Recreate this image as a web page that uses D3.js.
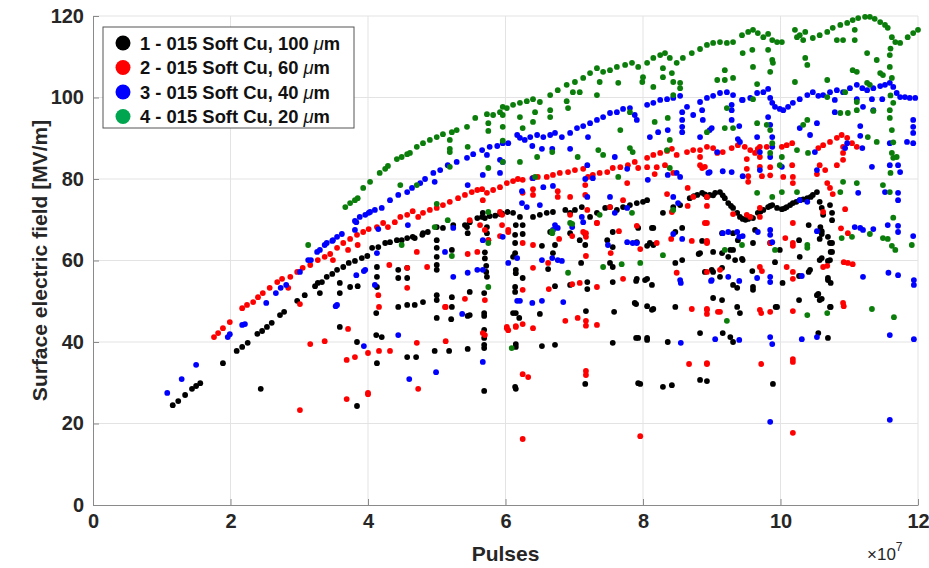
<!DOCTYPE html>
<html>
<head>
<meta charset="utf-8">
<script src="https://cdn.jsdelivr.net/npm/d3@7"></script>
<style>
  body { margin: 0; background: #fff; }
  svg text { font-family: "Liberation Sans", Arial, sans-serif; }
</style>
</head>
<body>
<div id="chart"></div>
<script>
// pulses are in units of 1e7, field in MV/m
var s1Points = [
  [1.16,24.5],[1.24,25.5],[1.34,27.0],[1.44,28.5],[1.50,29.2],[1.56,29.9],[1.89,34.8],[2.09,37.8],[2.17,38.8],[2.25,39.8],
  [2.39,42.0],[2.46,42.7],[2.53,43.7],[2.60,44.7],[2.72,46.6],[2.78,47.4],[2.97,50.1],[3.08,51.5],[3.23,53.7],[3.27,54.5],
  [3.33,54.7],[3.40,56.0],[3.48,56.7],[3.55,57.7],[3.64,58.4],[3.72,59.4],[3.81,59.9],[3.91,60.6],[3.99,61.1],[4.06,63.1],
  [4.15,63.3],[4.25,64.3],[4.32,64.5],[4.42,65.0],[4.49,65.0],[4.57,65.5],[4.65,65.8],[4.79,66.3],[4.87,67.0],[5.00,68.2],
  [5.09,68.0],[5.24,68.7],[5.41,68.7],[5.48,69.4],[5.59,70.4],[5.66,70.7],[5.77,70.9],[5.85,71.0],[5.92,71.4],[5.95,71.5],
  [6.03,71.9],[6.11,71.7],[6.21,70.7],[6.40,70.7],[6.50,71.2],[6.60,71.7],[6.69,71.9],[6.87,72.4],[6.94,71.7],[7.01,72.4],
  [7.11,73.1],[7.23,70.7],[7.33,71.7],[7.45,72.9],[7.52,73.1],[7.62,72.4],[7.71,73.1],[7.81,73.6],[7.91,74.1],[8.00,74.4],
  [8.06,74.8],[8.29,71.7],[8.44,73.1],[8.54,73.6],[8.68,75.3],[8.79,76.1],[8.86,76.6],[8.93,75.6],[8.97,76.1],[9.05,76.6],
  [9.12,76.8],[9.19,75.3],[9.24,74.1],[9.31,72.9],[9.37,71.7],[9.41,70.7],[9.45,70.2],[9.53,70.2],[9.60,70.4],[9.67,71.7],
  [9.75,72.4],[9.82,73.1],[9.88,73.6],[9.95,72.9],[10.02,72.6],[10.09,73.1],[10.18,74.1],[10.28,74.8],[10.39,75.3],[10.47,76.1],
  [10.53,76.8],[10.57,74.4],[10.60,72.9],[10.62,71.2],[10.72,73.6],[10.75,71.7],[10.75,69.9],
  [8.74,75.8],[8.90,76.2],[9.02,76.0],[9.16,76.0],[9.28,73.4],[9.49,70.0],[9.57,70.6],[9.71,72.0],[9.85,73.4],[10.06,72.8],
  [10.14,73.6],[10.23,74.4],[10.33,75.0],[10.44,75.6],
  [2.44,28.5],[3.84,24.3],[3.30,52.0],[3.59,52.0],[3.74,53.5],[3.85,53.7],[3.59,54.5],[3.59,43.7],[3.84,40.0],
  [4.13,58.4],[4.13,56.0],[4.13,53.5],[4.12,47.1],[4.12,41.7],[4.20,41.2],[4.13,34.8],
  [4.44,57.7],[4.44,55.7],[4.57,58.2],[4.57,55.7],[4.44,48.6],[4.57,49.1],[4.68,49.1],[4.80,49.8],[4.68,65.5],[4.80,66.7],
  [4.57,36.3],[4.70,36.3],[4.97,37.8],[5.18,37.8],[5.45,38.3],
  [5.00,65.0],[5.00,63.1],[5.00,60.9],[5.00,58.9],[5.00,57.7],[5.00,51.5],[5.00,50.3],[5.00,45.9],
  [5.22,62.6],[5.22,51.0],[5.22,48.6],[5.21,45.6],[5.44,68.2],[5.45,66.7],[5.48,52.3],[5.48,46.6],[5.45,46.4],
  [5.67,71.7],[5.70,70.4],[5.73,68.2],[5.73,66.7],[5.75,65.0],[5.70,62.0],[5.70,60.5],[5.72,58.7],[5.72,57.2],[5.73,56.0],
  [5.69,52.0],[5.69,47.1],[5.69,46.4],[5.69,43.0],[5.69,41.0],[5.69,39.3],[5.69,38.5],[5.69,28.0],
  [6.11,60.9],[6.15,57.7],[6.15,68.7],[6.25,68.7],[6.14,66.3],[6.25,66.5],[6.14,64.3],[6.14,61.8],[6.15,56.9],[6.25,55.7],
  [6.14,53.5],[6.14,52.3],[6.15,47.1],[6.20,45.9],[6.15,39.5],[6.15,38.8],[6.14,29.0],[6.11,47.1],[6.15,28.5],
  [6.53,63.6],[6.62,57.9],[6.69,61.8],[6.72,63.8],[6.65,67.0],[6.72,53.7],[6.50,46.9],[6.53,39.0],[6.72,39.3],
  [6.94,66.7],[7.08,65.0],[7.16,66.5],[7.16,63.8],[7.10,59.4],[7.19,54.7],[7.19,53.0],[7.17,47.6],[7.16,29.7],[6.94,54.0],
  [7.48,65.0],[7.56,67.0],[7.56,63.3],[7.52,59.4],[7.56,58.4],[7.56,54.7],[7.58,47.4],[7.56,39.8],
  [7.90,55.0],[8.06,55.5],[8.13,54.0],[7.90,49.3],[8.06,48.8],[8.15,48.1],[7.90,41.0],[8.06,41.0],[7.96,29.7],
  [8.06,63.6],[8.15,63.8],[8.13,68.0],[7.93,68.0],[8.15,68.0],[7.91,64.5],[8.10,64.3],
  [8.47,59.4],[8.57,60.1],[8.57,68.0],[8.47,67.0],[8.86,64.8],[8.83,61.8],[9.02,62.1],[9.15,61.8],[9.15,66.7],[9.31,66.7],
  [9.38,65.0],[9.27,62.6],[9.24,60.9],[9.34,60.1],[9.44,60.4],[9.00,57.7],[9.15,58.2],[9.12,56.0],[9.31,54.0],[9.37,53.3],
  [9.60,53.5],[9.63,67.5],[9.60,64.3],[9.85,64.3],[9.99,62.6],[10.28,60.9],[10.43,57.7],[10.57,60.1],[10.60,67.2],[10.57,65.3],
  [10.69,65.8],[10.72,64.3],[10.75,62.1],[10.72,60.1],[10.69,55.7],[10.53,51.5],[10.57,50.3],[10.72,48.6],[10.27,50.3],
  [9.95,48.6],[9.37,48.6],[9.41,47.1],[9.15,50.3],[9.02,50.8],[8.83,42.2],[9.16,42.2],[9.27,41.2],[9.31,40.0],[10.55,42.2],
  [10.69,41.0],[8.36,40.0],[8.06,40.5],[7.93,41.0],[8.03,55.2],[7.91,55.5],[7.88,49.6],[8.13,47.9],[8.47,48.6],
  [7.93,29.9],[8.29,29.0],[8.42,29.4],[8.83,30.7],[8.93,30.4],[9.89,29.7],[8.81,61.6],[9.02,57.2],[8.90,57.2],
  [9.31,62.6],[9.45,60.1],[9.59,57.4],[9.60,52.8],[9.92,59.6],[9.93,48.6],[10.03,54.5],[10.27,56.2],[10.27,65.0],[10.41,68.7],
  [10.41,57.2],[10.55,51.8],[10.60,50.6],[10.73,48.6],[10.60,60.6],[10.69,59.9],[10.73,62.1],[10.75,64.3],[10.69,55.2],
  [10.73,54.5],[10.60,66.5],[10.58,68.2]
];

var s2Points = [
  [1.76,41.2],[1.82,42.2],[1.89,43.4],[1.99,44.9],[2.17,48.3],[2.24,49.1],[2.33,49.8],[2.40,51.0],[2.47,52.0],[2.57,53.3],
  [2.68,54.7],[2.75,55.5],[2.87,56.0],[2.97,57.2],[3.05,58.2],[3.16,58.9],[3.27,60.1],[3.37,60.9],[3.45,61.6],[3.55,63.1],
  [3.64,64.3],[3.74,65.3],[3.84,66.3],[3.93,67.0],[4.01,67.7],[4.13,68.2],[4.22,69.2],[4.29,68.2],[4.39,69.4],[4.47,70.7],
  [4.57,71.2],[4.65,72.1],[4.73,70.7],[4.80,71.7],[4.90,72.4],[5.00,72.9],[5.09,73.6],[5.19,74.4],[5.31,75.3],[5.41,76.1],
  [5.51,76.8],[5.59,77.3],[5.66,77.5],[5.73,76.6],[5.82,77.3],[5.92,78.0],[6.02,79.0],[6.11,79.5],[6.18,80.0],[6.25,79.8],
  [6.39,80.2],[6.47,80.5],[6.60,80.5],[6.69,81.0],[6.79,81.5],[6.91,81.7],[7.01,82.2],[7.13,82.5],[7.20,80.5],[7.27,81.0],
  [7.37,81.5],[7.48,81.7],[7.56,82.7],[7.67,82.9],[7.78,83.4],[7.88,84.2],[7.93,82.7],[8.06,85.2],[8.15,85.9],[8.25,86.4],
  [8.35,86.9],[8.42,87.4],[8.49,85.9],[8.64,86.6],[8.73,87.1],[8.83,87.1],[8.93,87.9],[9.02,87.6],[9.08,86.4],[9.16,86.6],
  [9.29,87.6],[9.38,88.3],[9.48,87.9],[9.56,87.1],[9.63,86.4],[9.67,87.4],[9.80,87.9],[10.02,87.9],[10.09,88.3],[10.17,88.8],
  [10.55,87.6],[10.62,88.3],[10.72,89.1],[10.82,90.1],[10.89,90.8],[10.97,90.1],[11.04,88.8],[11.11,87.9],
  [2.84,53.3],[3.01,49.3],[3.16,39.5],[3.37,40.2],[3.01,23.3],[3.71,43.2],[3.69,35.6],[3.81,36.3],[3.69,26.0],[4.00,37.3],
  [4.00,27.5],[3.71,62.6],[3.85,63.8],[3.49,60.1],[4.31,58.9],[4.57,58.2],[4.57,53.3],[4.71,62.1],[4.86,58.4],[4.15,51.5],
  [4.16,48.6],[5.12,48.6],[5.41,50.6],[5.70,50.3],[5.45,61.6],[5.59,62.1],[5.63,68.7],[5.70,67.5],[5.48,69.9],[5.67,74.8],
  [5.75,65.0],[5.95,71.2],[5.92,66.0],[6.04,67.5],[6.02,43.7],[4.16,37.8],[4.32,37.8],[4.71,39.8],[5.13,40.2],[5.13,48.6],
  [4.73,28.5],[4.00,27.2],[5.67,42.2],[5.70,41.7],[6.04,42.9],[6.15,43.7],
  [6.40,77.5],[6.40,76.1],[6.25,76.6],[5.92,71.9],[5.95,68.7],[6.76,77.0],[6.76,75.6],[6.94,75.6],[6.94,71.2],[7.16,78.5],
  [7.16,76.1],[7.19,72.4],[7.33,69.2],[7.13,67.0],[7.52,73.1],[7.71,74.8],[7.77,79.0],[8.06,82.9],[8.20,82.9],[8.32,83.4],
  [8.17,81.2],[8.35,76.3],[8.65,77.8],[8.73,75.6],[8.86,82.7],[8.93,75.6],[8.90,69.2],[8.42,71.9],[8.65,73.4],[8.44,81.5],
  [8.83,85.4],[8.83,83.4],[8.90,83.0],[9.51,84.9],[9.51,82.5],[9.53,80.7],[9.53,79.3],[9.70,87.9],[9.70,85.4],[9.70,83.0],
  [9.73,80.7],[9.85,82.9],[9.85,80.9],[10.04,80.5],[10.17,83.4],[10.18,80.5],[10.18,79.0],[10.53,81.2],[10.57,83.4],[10.65,82.2],
  [10.68,79.0],[10.72,77.8],[10.76,76.3],[10.91,87.9],[10.91,86.4],[10.91,84.7],[10.82,83.4],
  [8.93,73.4],[8.93,69.2],[8.93,64.5],[9.31,71.4],[9.51,71.2],[9.56,70.7],[9.70,72.9],[9.70,70.7],[10.18,69.2],[10.18,64.3],
  [10.18,63.6],[10.07,65.5],[9.85,64.3],[10.62,71.9],[10.94,72.6],[10.88,67.9],[10.98,66.7],[8.93,57.2],[9.12,57.7],[9.70,58.4],
  [9.73,57.4],[10.09,58.4],[10.18,57.2],[10.18,55.5],[10.62,58.4],[10.68,58.7],[10.92,59.6],[10.98,59.4],[11.05,59.1],[8.93,47.9],
  [9.12,47.4],[9.70,47.9],[9.72,47.1],[9.85,47.4],[10.18,47.6],[10.91,49.6],[10.92,48.8],[8.93,34.8],[9.72,34.6],[10.18,35.8],
  [10.18,35.1],[10.18,17.7],
  [6.04,67.0],[6.25,64.3],[6.40,63.8],[6.40,58.2],[6.62,59.4],[6.78,65.3],[6.97,66.0],[7.17,66.7],[7.17,65.8],[7.17,61.1],
  [7.33,69.2],[7.65,67.2],[7.53,61.8],[7.91,68.5],[7.96,62.8],[8.20,64.3],[8.41,65.3],[8.71,64.8],[8.93,64.8],[8.93,64.3],
  [8.49,57.0],[6.25,52.8],[6.63,53.0],[6.97,54.2],[7.08,54.5],[7.33,53.5],[7.71,55.5],[6.02,43.4],[6.15,43.9],[6.25,44.4],
  [6.40,43.4],[6.87,45.2],[7.05,45.9],[7.17,45.2],[7.17,44.0],[7.33,44.2],[8.71,48.1],[8.93,48.1],[8.93,46.9],[9.09,47.4],
  [6.25,32.1],[6.33,31.4],[7.17,32.9],[7.17,31.9],[8.67,34.6],[8.93,34.6],[6.25,16.2],[7.96,16.9]
];

var s3Points = [
  [1.08,27.5],[1.29,30.9],[1.50,34.4],[1.96,41.2],[1.99,41.9],[2.17,44.2],[2.21,44.4],[2.52,49.6],[2.66,52.0],[2.73,53.3],
  [2.81,54.0],[3.01,57.2],[3.13,60.1],[3.17,60.1],[3.26,62.1],[3.30,62.6],[3.37,63.8],[3.40,64.3],[3.48,64.8],[3.49,65.0],
  [3.55,65.8],[3.62,66.5],[3.81,67.5],[3.81,69.7],[3.83,69.4],[3.88,70.7],[3.96,71.2],[4.01,71.7],[4.03,71.9],[4.10,72.4],
  [4.20,72.9],[4.32,74.8],[4.44,76.1],[4.57,76.8],[4.64,77.8],[4.76,79.0],[4.83,80.0],[4.95,81.5],[5.05,82.2],[5.16,83.4],
  [5.29,84.2],[5.44,85.2],[5.53,86.1],[5.66,87.1],[5.77,87.9],[5.88,88.1],[5.96,88.8],[6.04,88.8],[6.17,90.8],[6.21,90.1],
  [6.28,89.6],[6.36,90.3],[6.46,90.8],[6.55,90.3],[6.65,90.8],[6.72,91.3],[6.82,90.3],[6.94,91.3],[7.04,92.5],[7.13,93.0],
  [7.23,93.7],[7.33,94.5],[7.42,95.2],[7.52,96.2],[7.62,96.4],[7.71,97.2],[7.81,97.4],[7.88,95.7],[7.91,94.5],[8.06,98.2],
  [8.15,98.7],[8.25,99.4],[8.35,99.6],[8.44,99.9],[8.54,100.4],[8.64,97.7],[8.83,98.9],[8.93,99.9],[9.02,100.4],[9.12,101.1],
  [9.22,101.3],[9.31,100.6],[9.44,99.4],[9.56,99.9],[9.66,101.1],[9.75,101.3],[9.82,102.1],[9.85,99.9],[9.88,98.7],[9.92,97.7],
  [9.99,97.2],[10.04,96.9],[10.11,97.7],[10.18,98.7],[10.28,99.6],[10.39,100.6],[10.47,101.3],[10.55,100.4],[10.62,100.6],[10.72,101.3],
  [10.82,101.8],[10.91,101.3],[11.01,102.3],[11.11,103.1],[11.19,102.3],[11.26,101.8],[11.35,102.3],[11.45,102.8],[11.52,103.1],[11.59,103.6],
  [11.64,102.6],[11.69,101.1],[11.74,100.1],[11.81,100.1],[11.88,99.9],[11.96,99.9],
  [3.53,48.8],[3.83,56.4],[3.94,57.4],[3.94,39.0],[4.44,41.7],[5.37,46.9],[5.67,35.1],[4.99,32.6],[4.60,30.9],
  [5.45,78.5],[5.67,81.0],[5.92,81.5],[5.96,84.2],[5.73,85.9],[4.97,79.3],[4.15,67.7],[3.96,57.7],[4.13,61.8],[4.10,54.0],
  [4.58,68.7],[5.24,68.0],[5.12,62.1],[5.24,56.0],[5.45,57.0],[5.59,57.7],[5.67,57.7],[3.55,49.1],[5.67,65.0],[5.96,65.8],
  [6.04,59.4],[6.17,60.6],
  [5.92,84.7],[6.39,88.1],[6.53,87.4],[6.68,87.4],[6.94,87.4],[7.20,90.3],[7.19,83.4],[7.59,85.4],[7.77,82.5],[7.16,80.0],
  [7.19,75.6],[7.11,70.7],[6.69,78.3],[6.55,78.0],[6.40,80.2],[6.24,77.0],[6.24,74.1],[6.31,73.1],[6.50,73.6],[6.72,68.7],
  [7.27,80.2],[7.52,75.6],[7.59,71.7],[7.77,72.9],[8.07,79.8],[8.10,90.3],[8.22,91.5],[8.36,92.0],[8.36,81.0],[8.49,81.5],
  [8.54,80.5],[8.57,91.5],[8.57,92.8],[8.57,94.5],[8.57,96.4],[8.73,95.7],[8.86,96.9],[8.87,94.5],[8.97,92.0],[8.83,90.3],
  [8.95,81.5],[8.44,75.6],[8.51,74.1],
  [9.29,98.2],[9.29,96.9],[9.29,94.5],[9.40,93.0],[9.45,99.4],[9.00,92.5],[9.66,90.3],[9.38,89.8],[9.41,89.1],[9.82,95.2],
  [9.85,93.3],[9.88,90.3],[9.88,87.9],[9.85,85.4],[9.70,86.6],[9.70,82.2],[9.08,86.6],[9.16,81.9],[9.29,81.7],[8.97,81.7],
  [9.45,80.7],[10.02,83.0],[10.28,92.5],[10.43,90.8],[10.53,93.7],[10.50,86.6],[10.53,82.2],[10.39,74.4],[10.28,74.8],[10.79,99.4],
  [10.79,96.4],[10.94,87.6],[10.97,88.8],[11.11,99.6],[11.16,93.0],[11.16,90.6],[11.20,97.7],[11.33,99.6],[11.48,99.6],[11.35,96.9],
  [11.19,87.6],[11.33,83.0],[11.59,88.8],[11.59,83.4],[11.71,83.4],[11.74,81.7],[11.84,89.1],[11.93,88.8],[11.93,94.5],[11.93,92.8],
  [11.93,91.3],[11.13,76.6],[11.52,76.8],[11.71,76.6],[11.71,74.8],
  [9.85,67.5],[9.85,66.3],[9.88,64.5],[10.31,56.2],[9.16,66.7],[9.24,67.0],[9.37,67.0],[9.40,65.8],[9.45,66.0],[9.67,67.0],
  [10.53,67.2],[11.08,68.2],[11.16,68.0],[11.20,67.5],[11.35,67.7],[11.56,68.7],[11.71,68.5],[11.71,67.0],[11.93,66.0],[9.00,55.2],
  [9.24,56.0],[9.40,55.0],[9.66,55.7],[9.85,56.0],[9.85,54.7],[11.20,56.0],[11.57,57.0],[11.71,56.4],[11.94,55.2],[11.94,54.0],
  [9.05,40.7],[9.40,40.5],[9.85,41.2],[9.88,39.5],[10.31,40.7],[10.53,41.2],[11.59,41.7],[11.94,40.7],[9.85,20.4],[11.59,20.9],
  [6.17,50.1],[6.21,50.1],[6.39,49.6],[6.53,50.1],[6.53,60.1],[6.68,60.6],[6.76,60.1],[6.82,59.9],[6.84,49.8],[6.69,67.5],
  [6.76,68.0],[7.13,69.4],[6.97,68.2],[7.49,63.8],[7.77,64.5],[7.85,64.3],[7.91,64.3],[8.44,66.5],[8.57,65.3],[8.54,55.2],
  [8.55,54.5],[8.99,55.0],[8.55,39.8]
];

var s4Points = [
  [3.13,63.8],[3.67,73.1],[3.74,74.1],[3.81,74.8],[3.85,75.3],[3.93,77.8],[4.03,79.3],[4.17,81.5],[4.25,82.5],[4.29,83.2],
  [4.42,84.9],[4.49,85.4],[4.57,86.1],[4.61,86.4],[4.71,87.9],[4.80,88.8],[4.90,89.6],[5.00,90.3],[5.09,91.0],[5.22,91.5],
  [5.29,92.0],[5.44,92.8],[5.56,95.0],[5.73,95.9],[5.82,95.7],[5.92,96.4],[5.96,97.7],[6.02,97.4],[6.11,98.2],[6.21,98.7],
  [6.31,99.1],[6.40,99.6],[6.50,98.9],[6.65,100.6],[6.76,101.8],[6.89,103.1],[7.01,103.8],[7.13,104.8],[7.23,106.0],[7.33,107.2],
  [7.42,106.3],[7.52,106.7],[7.62,107.5],[7.74,108.0],[7.84,108.5],[7.93,107.5],[8.06,108.5],[8.15,109.7],[8.25,110.4],[8.32,110.9],
  [8.39,109.7],[8.49,108.5],[8.58,109.7],[8.71,110.9],[8.83,111.9],[8.93,112.9],[9.02,113.4],[9.12,113.6],[9.22,113.4],[9.31,113.6],
  [9.44,115.3],[9.53,116.1],[9.60,116.6],[9.67,115.8],[9.75,114.8],[9.82,115.6],[9.88,114.1],[9.95,113.6],[10.02,113.6],[10.21,116.6],
  [10.24,114.8],[10.28,115.3],[10.36,116.1],[10.47,114.6],[10.57,115.3],[10.68,116.1],[10.76,117.1],[10.87,117.8],[10.97,118.3],[11.05,119.0],
  [11.13,119.5],[11.23,119.8],[11.30,119.8],[11.37,119.3],[11.45,118.5],[11.52,117.8],[11.56,117.1],[11.62,114.8],[11.67,113.6],[11.74,113.4],
  [11.85,114.8],[11.93,115.8],[12.00,116.6],
  [4.47,78.5],[4.71,78.5],[5.00,73.9],[5.19,87.4],[5.45,87.9],[5.19,83.0],[5.75,91.8],[5.75,82.7],[5.75,71.9],[4.97,68.2],
  [5.16,69.9],[5.22,61.1],[5.75,64.3],[5.75,53.5],[4.49,63.8],[5.19,89.6],[5.19,86.6],[5.75,93.7],[5.96,92.8],[5.96,89.4],
  [6.21,95.2],[6.21,84.2],[6.09,38.5],
  [5.96,95.7],[6.25,92.5],[6.40,94.0],[6.43,96.4],[6.65,96.9],[6.65,95.2],[6.89,99.1],[6.91,97.4],[7.08,101.3],[6.98,101.3],
  [7.37,103.8],[7.33,100.6],[7.64,103.6],[7.67,92.0],[7.81,96.4],[7.99,103.8],[8.00,105.0],[8.15,102.6],[8.17,94.0],[8.29,107.2],
  [8.29,105.0],[8.42,106.0],[8.44,103.8],[8.54,103.6],[8.54,102.3],[8.44,100.6],[8.36,95.0],[8.39,89.6],[8.35,87.1],[7.05,85.4],
  [7.35,87.1],[7.42,85.9],[7.81,87.6],[7.85,86.6],[6.68,86.6],[6.46,85.4],[5.96,84.2],[6.43,80.5],[7.64,80.5],[7.37,71.2],
  [6.94,69.2],[8.39,82.7],[8.44,72.4],[7.84,71.7],[6.68,67.2],
  [9.45,110.9],[9.59,111.7],[9.82,111.7],[9.88,109.2],[9.85,106.3],[9.60,107.5],[9.89,108.5],[9.19,106.7],[9.08,104.3],[9.19,104.3],
  [9.31,104.8],[9.66,103.3],[9.60,99.6],[9.22,97.4],[8.93,91.5],[9.19,92.5],[9.31,92.5],[9.66,93.7],[9.80,93.3],[9.85,92.0],
  [9.88,88.8],[9.85,86.4],[10.02,85.4],[9.99,83.4],[10.21,103.8],[10.33,114.1],[10.36,109.7],[10.39,108.0],[10.39,94.5],[10.33,93.3],
  [10.24,87.1],[10.40,86.4],[10.68,104.3],[10.68,100.1],[10.82,114.1],[10.91,114.1],[11.08,116.6],[11.08,114.1],[11.11,106.3],[11.05,106.7],
  [11.26,110.9],[11.40,109.2],[11.45,106.0],[11.49,105.5],[11.59,110.4],[11.59,107.5],[11.62,104.8],[11.26,103.6],[11.30,103.1],[10.94,101.3],
  [10.87,96.2],[10.98,96.2],[11.11,96.9],[11.11,98.9],[11.35,96.7],[11.27,90.3],[11.40,89.1],[11.59,96.9],[11.59,95.0],[11.64,98.7],
  [11.62,86.4],[11.64,85.2],[11.69,85.4],[11.49,78.5],[11.59,76.8],[10.87,76.8],[11.11,79.0],[10.91,79.3],[10.24,76.8],[10.02,76.8],
  [9.88,75.6],[9.66,76.6],[11.60,112.0],[11.60,100.5],[11.62,92.0],[11.64,89.0],[11.60,81.5],[11.64,70.5],
  [9.19,62.6],[9.44,63.8],[9.92,62.6],[10.39,63.8],[10.39,63.1],[10.89,65.5],[11.04,65.8],[11.30,66.5],[11.49,65.5],[11.56,65.3],
  [11.62,63.6],[11.67,62.6],[11.91,63.8],[9.22,45.2],[10.39,46.6],[10.68,47.1],[11.33,48.1],[11.65,46.1],[6.91,57.0],[6.97,69.0],
  [6.68,66.7],[7.42,58.4],[7.69,59.1],[7.96,59.4],[8.29,61.3]
];

var seriesNames = ["1 - 015 Soft Cu, 100 ", "2 - 015 Soft Cu, 60 ", "3 - 015 Soft Cu, 40 ", "4 - 015 Soft Cu, 20 "];
var seriesColors = ["#000000", "#ff0000", "#0000ff", "#0b7d0b"];
var legendColors = ["#000000", "#ff0000", "#0000ff", "#00a550"];
var xTicks = [0, 2, 4, 6, 8, 10, 12];
var yTicks = [0, 20, 40, 60, 80, 100, 120];

var svgWidth = 929;
var svgHeight = 568;
var margin = { top: 16, right: 11, bottom: 63, left: 93 };
var width = svgWidth - margin.left - margin.right;
var height = svgHeight - margin.top - margin.bottom;

var svg = d3.select("#chart")
    .append("svg")
    .attr("width", svgWidth)
    .attr("height", svgHeight);

var chartGroup = svg.append("g")
    .attr("transform", `translate(${margin.left},${margin.top})`);

var xScale = d3.scaleLinear().domain([0, 12]).range([0, width]);
var yScale = d3.scaleLinear().domain([0, 120]).range([height, 0]);

// grid
chartGroup.append("g").selectAll("line")
    .data(xTicks.slice(1))
    .enter().append("line")
    .attr("x1", d => xScale(d)).attr("x2", d => xScale(d))
    .attr("y1", 0).attr("y2", height)
    .attr("stroke", "#e3e3e3").attr("stroke-width", 1);

chartGroup.append("g").selectAll("line")
    .data(yTicks.slice(1))
    .enter().append("line")
    .attr("x1", 0).attr("x2", width)
    .attr("y1", d => yScale(d)).attr("y2", d => yScale(d))
    .attr("stroke", "#e3e3e3").attr("stroke-width", 1);

// axes
var bottomAxis = d3.axisBottom(xScale).tickValues(xTicks).tickSizeInner(-6).tickSizeOuter(0).tickPadding(9);
var leftAxis = d3.axisLeft(yScale).tickValues(yTicks).tickSizeInner(-6).tickSizeOuter(0).tickPadding(9);

var xAxis = chartGroup.append("g")
    .attr("transform", `translate(0, ${height})`)
    .call(bottomAxis);
var yAxis = chartGroup.append("g").call(leftAxis);

[xAxis, yAxis].forEach(function(ax) {
    ax.select(".domain").attr("stroke", "#8a8a8a");
    ax.selectAll(".tick line").attr("stroke", "#8a8a8a");
    ax.selectAll(".tick text")
        .attr("fill", "#262626")
        .style("font-size", "20px")
        .style("font-weight", "bold");
});

// points, series 1 drawn first
var allSeries = [s1Points, s2Points, s3Points, s4Points];
allSeries.forEach(function(pts, i) {
    chartGroup.append("g").selectAll("circle")
        .data(pts)
        .enter().append("circle")
        .attr("cx", d => xScale(d[0]))
        .attr("cy", d => yScale(d[1]))
        .attr("r", 2.9)
        .attr("fill", seriesColors[i]);
});

// axis labels
chartGroup.append("text")
    .attr("x", width / 2)
    .attr("y", height + 56)
    .attr("text-anchor", "middle")
    .attr("fill", "#262626")
    .style("font-size", "21px")
    .style("font-weight", "bold")
    .text("Pulses");

var expLabel = chartGroup.append("text")
    .attr("x", width - 51)
    .attr("y", height + 55)
    .attr("fill", "#262626")
    .style("font-size", "17px");
expLabel.append("tspan").text("\u00d710");
expLabel.append("tspan").attr("dy", -9).style("font-size", "12px").text("7");

chartGroup.append("text")
    .attr("transform", "rotate(-90)")
    .attr("x", -height / 2)
    .attr("y", -margin.left + 47)
    .attr("text-anchor", "middle")
    .attr("fill", "#262626")
    .style("font-size", "21px")
    .style("font-weight", "bold")
    .text("Surface electric field [MV/m]");

// legend
var legend = chartGroup.append("g")
    .attr("transform", "translate(10, 11)");

legend.append("rect")
    .attr("x", 0).attr("y", 0)
    .attr("width", 251).attr("height", 101)
    .attr("fill", "#fff")
    .attr("stroke", "#555")
    .attr("stroke-width", 1);

seriesNames.forEach(function(name, i) {
    var row = legend.append("g").attr("transform", `translate(0, ${16 + i * 24.5})`);
    row.append("circle")
        .attr("cx", 20).attr("cy", 0).attr("r", 7.5)
        .attr("fill", legendColors[i]);
    var t = row.append("text")
        .attr("x", 37).attr("y", 6.5)
        .attr("fill", "#111")
        .style("font-size", "18.4px")
        .style("font-weight", "bold");
    t.append("tspan").text(name);
    t.append("tspan").style("font-style", "italic").style("font-weight", "normal").text("\u03bc");
    t.append("tspan").text("m");
});
</script>
</body>
</html>
